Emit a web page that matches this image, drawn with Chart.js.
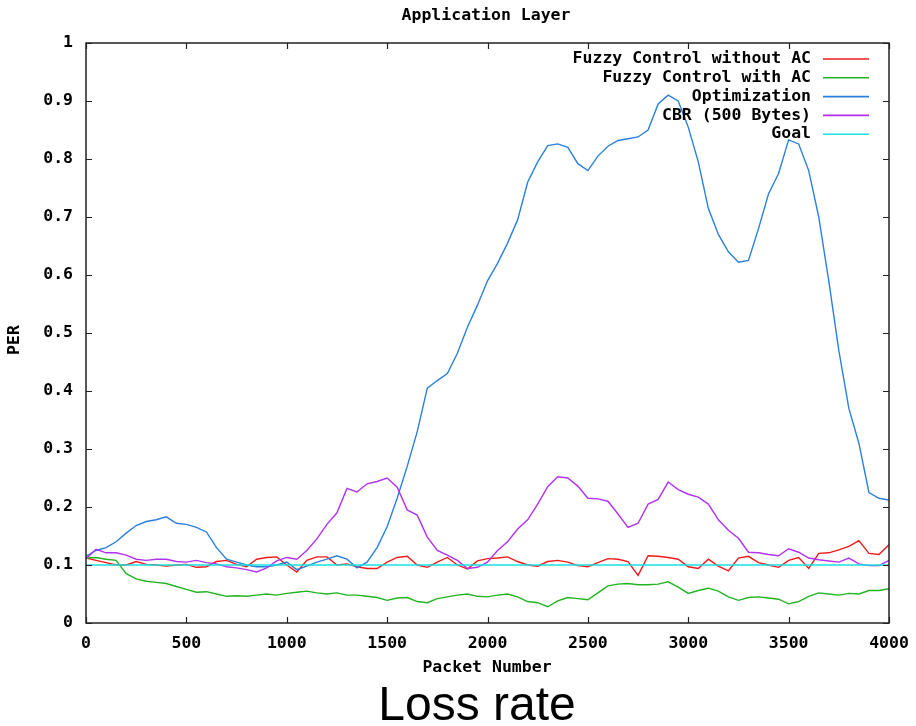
<!DOCTYPE html>
<html>
<head>
<meta charset="utf-8">
<script src="https://cdn.jsdelivr.net/npm/chart.js@4/dist/chart.umd.min.js"></script>
<style>
  html, body { margin: 0; padding: 0; background: #fff; }
  #wrap { width: 916px; height: 726px; position: relative; }
</style>
</head>
<body>
<div id="wrap"><canvas id="c" width="916" height="726"></canvas></div>
<script>
// Packet numbers at which the moving PER is sampled
const packetNumbers = [
  0, 50, 100, 150, 200, 250, 300, 350, 400, 450, 500, 550, 600, 650, 700, 750, 800, 850, 900, 950,
  1000, 1050, 1100, 1150, 1200, 1250, 1300, 1350, 1400, 1450, 1500, 1550, 1600, 1650, 1700, 1750, 1800, 1850, 1900, 1950,
  2000, 2050, 2100, 2150, 2200, 2250, 2300, 2350, 2400, 2450, 2500, 2550, 2600, 2650, 2700, 2750, 2800, 2850, 2900, 2950,
  3000, 3050, 3100, 3150, 3200, 3250, 3300, 3350, 3400, 3450, 3500, 3550, 3600, 3650, 3700, 3750, 3800, 3850, 3900, 3950,
  4000
];

const fuzzyWithoutAC = [
  0.112, 0.108, 0.104, 0.100, 0.100, 0.106, 0.101, 0.100, 0.098, 0.100, 0.101, 0.096, 0.097, 0.106, 0.108, 0.101, 0.097, 0.110, 0.113, 0.114,
  0.100, 0.088, 0.108, 0.114, 0.114, 0.100, 0.102, 0.097, 0.094, 0.094, 0.105, 0.113, 0.115, 0.100, 0.096, 0.105, 0.113, 0.100, 0.093, 0.107,
  0.111, 0.112, 0.114, 0.106, 0.100, 0.098, 0.106, 0.108, 0.105, 0.099, 0.097, 0.104, 0.111, 0.110, 0.106, 0.082, 0.116, 0.115, 0.113, 0.110,
  0.097, 0.094, 0.110, 0.098, 0.090, 0.112, 0.115, 0.104, 0.100, 0.096, 0.108, 0.113, 0.094, 0.120, 0.121, 0.126, 0.132, 0.142, 0.120, 0.118,
  0.135
];

const fuzzyWithAC = [
  0.112, 0.113, 0.110, 0.108, 0.085, 0.076, 0.072, 0.070, 0.068, 0.063, 0.058, 0.053, 0.054, 0.050, 0.046, 0.047, 0.046, 0.048, 0.050, 0.048,
  0.051, 0.053, 0.055, 0.052, 0.050, 0.052, 0.048, 0.048, 0.046, 0.044, 0.039, 0.043, 0.044, 0.037, 0.035, 0.042, 0.045, 0.048, 0.050, 0.046,
  0.045, 0.048, 0.050, 0.045, 0.037, 0.035, 0.028, 0.038, 0.044, 0.042, 0.040, 0.052, 0.064, 0.067, 0.068, 0.066, 0.066, 0.067, 0.071, 0.062,
  0.051, 0.056, 0.060, 0.055, 0.045, 0.039, 0.044, 0.045, 0.043, 0.041, 0.033, 0.037, 0.046, 0.052, 0.050, 0.048, 0.051, 0.050, 0.056, 0.056,
  0.059
];

const optimization = [
  0.115, 0.125, 0.130, 0.140, 0.155, 0.168, 0.175, 0.178, 0.183, 0.172, 0.170, 0.165, 0.157, 0.130, 0.110, 0.105, 0.100, 0.097, 0.097, 0.100,
  0.105, 0.092, 0.098, 0.105, 0.110, 0.116, 0.110, 0.095, 0.105, 0.130, 0.166, 0.215, 0.270, 0.330, 0.405, 0.418, 0.430, 0.465, 0.510, 0.548,
  0.590, 0.620, 0.655, 0.695, 0.760, 0.795, 0.823, 0.826, 0.820, 0.792, 0.780, 0.805, 0.822, 0.832, 0.835, 0.838, 0.850, 0.895, 0.910, 0.900,
  0.855, 0.795, 0.715, 0.670, 0.640, 0.622, 0.625, 0.680, 0.740, 0.775, 0.833, 0.826, 0.780, 0.700, 0.590, 0.470, 0.370, 0.310, 0.225, 0.215,
  0.212
];

const cbr500 = [
  0.111, 0.127, 0.121, 0.121, 0.117, 0.110, 0.108, 0.110, 0.110, 0.106, 0.105, 0.108, 0.104, 0.102, 0.097, 0.095, 0.092, 0.088, 0.095, 0.107,
  0.113, 0.110, 0.125, 0.145, 0.170, 0.190, 0.232, 0.226, 0.240, 0.244, 0.250, 0.234, 0.195, 0.186, 0.148, 0.125, 0.117, 0.108, 0.094, 0.096,
  0.105, 0.125, 0.140, 0.162, 0.178, 0.205, 0.235, 0.252, 0.250, 0.236, 0.215, 0.214, 0.210, 0.188, 0.165, 0.172, 0.205, 0.213, 0.243, 0.230,
  0.222, 0.217, 0.205, 0.178, 0.160, 0.146, 0.122, 0.121, 0.118, 0.116, 0.128, 0.122, 0.112, 0.109, 0.107, 0.105, 0.112, 0.102, 0.099, 0.099,
  0.108
];

// Target PER
const goalLevel = 0.1;
const goalRange = [0, 4000];

const seriesLabels = [
  'Fuzzy Control without AC',
  'Fuzzy Control with AC',
  'Optimization',
  'CBR (500 Bytes)',
  'Goal'
];
const seriesColors = ['#ee1a1a', '#22b422', '#2a80dc', '#b232f0', '#18e0e0'];

const yTicks = [0, 0.1, 0.2, 0.3, 0.4, 0.5, 0.6, 0.7, 0.8, 0.9, 1];
const yTickLabels = ['0', '0.1', '0.2', '0.3', '0.4', '0.5', '0.6', '0.7', '0.8', '0.9', '1'];
const xTicks = [0, 500, 1000, 1500, 2000, 2500, 3000, 3500, 4000];
const xTickLabels = ['0', '500', '1000', '1500', '2000', '2500', '3000', '3500', '4000'];

const FONT = "'DejaVu Sans Mono', 'Liberation Mono', monospace";
const FONT_SIZE = 16.5;

function toPoints(values) {
  return values.map((v, i) => ({ x: packetNumbers[i], y: v }));
}

const seriesValues = [fuzzyWithoutAC, fuzzyWithAC, optimization, cbr500];
const datasets = seriesValues.map((vals, i) => ({
  label: seriesLabels[i],
  data: toPoints(vals),
  borderColor: seriesColors[i],
  borderWidth: 1.4,
  pointRadius: 0,
  tension: 0,
  fill: false,
  order: 5 - i
}));
datasets.push({
  label: seriesLabels[4],
  data: goalRange.map(x => ({ x: x, y: goalLevel })),
  borderColor: seriesColors[4],
  borderWidth: 1.6,
  pointRadius: 0,
  fill: false,
  order: 0
});

// Frame, inward tick marks, legend and titles in the gnuplot manner
const decorations = {
  id: 'decorations',
  afterDatasetsDraw(chart) {
    const { ctx, chartArea: a, scales } = chart;
    const xs = scales.x, ys = scales.y;
    ctx.save();
    ctx.strokeStyle = '#222';
    ctx.lineWidth = 1.5;
    ctx.strokeRect(a.left, a.top, a.right - a.left, a.bottom - a.top);
    ctx.lineWidth = 1.2;
    const tl = 6;
    ctx.beginPath();
    xTicks.forEach(v => {
      const px = Math.round(xs.getPixelForValue(v)) + 0.5;
      ctx.moveTo(px, a.bottom); ctx.lineTo(px, a.bottom - tl);
      ctx.moveTo(px, a.top); ctx.lineTo(px, a.top + tl);
    });
    yTicks.forEach(v => {
      const py = Math.round(ys.getPixelForValue(v)) + 0.5;
      ctx.moveTo(a.left, py); ctx.lineTo(a.left + tl, py);
      ctx.moveTo(a.right, py); ctx.lineTo(a.right - tl, py);
    });
    ctx.stroke();

    // legend, top right inside the frame
    ctx.font = 'bold ' + FONT_SIZE + 'px ' + FONT;
    ctx.textAlign = 'right';
    ctx.textBaseline = 'middle';
    chart.data.datasets.forEach((ds, i) => {
      const y = 59 + i * 18.8;
      ctx.fillStyle = '#000';
      ctx.fillText(ds.label, 811, y);
      ctx.strokeStyle = ds.borderColor;
      ctx.lineWidth = 1.6;
      ctx.beginPath();
      ctx.moveTo(823, y); ctx.lineTo(869, y);
      ctx.stroke();
    });

    // titles
    ctx.fillStyle = '#000';
    ctx.textAlign = 'center';
    ctx.fillText('Application Layer', 486, 16);
    ctx.fillText('Packet Number', 487, 668);
    ctx.save();
    ctx.translate(15, 340);
    ctx.rotate(-Math.PI / 2);
    ctx.fillText('PER', 0, 0);
    ctx.restore();

    ctx.font = "48px 'Liberation Sans', Arial, sans-serif";
    ctx.textBaseline = 'alphabetic';
    ctx.fillText('Loss rate', 477, 720);
    ctx.restore();
  }
};

new Chart(document.getElementById('c'), {
  type: 'line',
  data: { datasets: datasets },
  options: {
    responsive: false,
    animation: false,
    layout: { padding: { left: 0, right: 27, top: 43, bottom: 0 } },
    plugins: { legend: { display: false }, tooltip: { enabled: false }, title: { display: false } },
    scales: {
      x: {
        type: 'linear',
        min: 0, max: 4000,
        afterFit(scale) { scale.height = 103; scale.paddingLeft = 0; scale.paddingRight = 0; },
        afterBuildTicks(scale) { scale.ticks = xTicks.map(v => ({ value: v })); },
        grid: { display: false, drawTicks: false },
        border: { display: false },
        ticks: {
          color: '#000', padding: 11, maxRotation: 0,
          callback: (v) => xTickLabels[xTicks.indexOf(v)],
          font: { family: FONT, size: FONT_SIZE, weight: 'bold' }
        }
      },
      y: {
        type: 'linear',
        min: 0, max: 1,
        afterFit(scale) { scale.width = 86; scale.paddingTop = 0; scale.paddingBottom = 0; },
        afterBuildTicks(scale) { scale.ticks = yTicks.map(v => ({ value: v })); },
        grid: { display: false, drawTicks: false },
        border: { display: false },
        ticks: {
          color: '#000', padding: 13,
          callback: (v) => yTickLabels[yTicks.indexOf(v)],
          font: { family: FONT, size: FONT_SIZE, weight: 'bold' }
        }
      }
    }
  },
  plugins: [decorations]
});
</script>
</body>
</html>
